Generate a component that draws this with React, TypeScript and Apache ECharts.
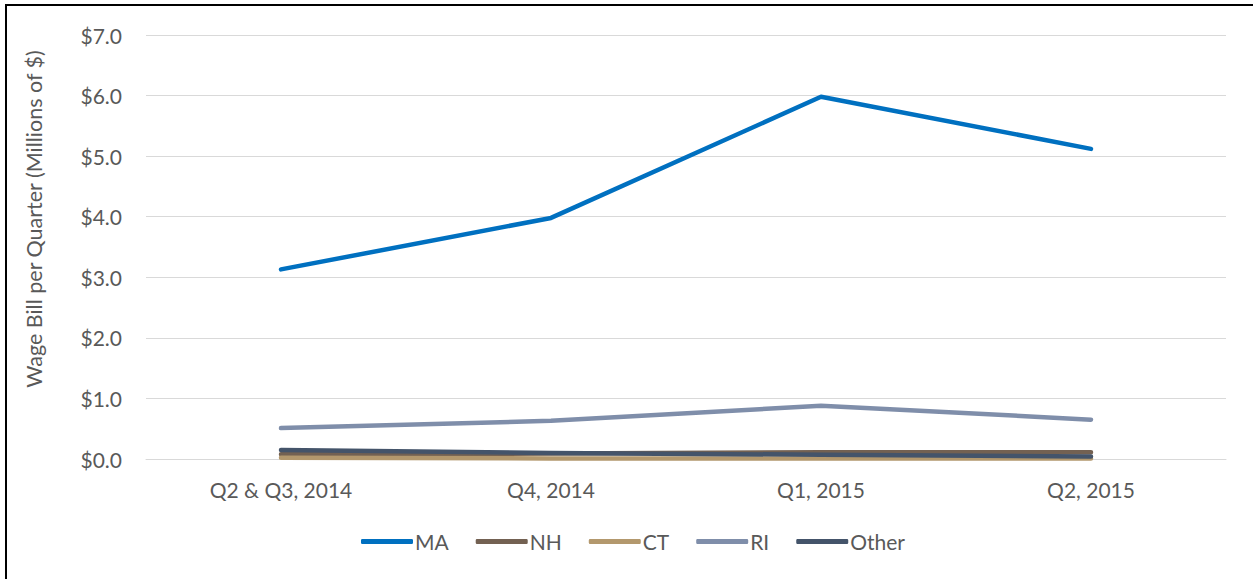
import React, { useEffect, useRef } from "react";
import * as echarts from "echarts";

const categories = ["Q2 & Q3, 2014", "Q4, 2014", "Q1, 2015", "Q2, 2015"];
const seriesNames = ["MA", "NH", "CT", "RI", "Other"];
const maValues = [3.13, 3.98, 5.98, 5.12];
const nhValues = [0.08, 0.09, 0.11, 0.11];
const ctValues = [0.02, 0.01, 0.01, 0.01];
const riValues = [0.51, 0.63, 0.88, 0.65];
const otherValues = [0.15, 0.1, 0.07, 0.04];
const colors = ["#0070C0", "#736152", "#B3986D", "#7F8EAA", "#44546A"];
const yTicks = [0, 1, 2, 3, 4, 5, 6, 7];
const yAxisTitle = "Wage Bill per Quarter (Millions of $)";

export default function App() {
  const ref = useRef<HTMLDivElement>(null);
  useEffect(() => {
    document.body.style.margin = "0";
    const chart = echarts.init(ref.current!, undefined, { renderer: "svg" });
    const font = "Lato, 'Open Sans', sans-serif";
    const data = [maValues, nhValues, ctValues, riValues, otherValues];
    chart.setOption({
      animation: false,
      textStyle: { fontFamily: font },
      graphic: [
        {
          type: "rect",
          shape: { x: 6, y: 5, width: 1260, height: 590 },
          style: { fill: "none", stroke: "#000", lineWidth: 2 },
          silent: true,
        },
        {
          type: "text",
          x: 34,
          y: 219,
          rotation: Math.PI / 2,
          style: {
            text: yAxisTitle,
            fill: "#595959",
            font: `21.5px ${font}`,
            align: "center",
            verticalAlign: "middle",
          },
          silent: true,
        },
      ],
      grid: { left: 146, right: 27, top: 35, bottom: 120, containLabel: false },
      legend: {
        bottom: 22,
        left: 356,
        icon: "roundRect",
        itemWidth: 52,
        itemHeight: 5,
        itemGap: 27,
        textStyle: { color: "#595959", fontSize: 21, fontFamily: font, padding: [0, 0, 0, -3] },
        data: seriesNames,
      },
      xAxis: {
        type: "category",
        data: categories,
        boundaryGap: true,
        axisLine: { show: true, lineStyle: { color: "#D9D9D9", width: 1 } },
        axisTick: { show: false },
        axisLabel: { color: "#595959", fontSize: 21, margin: 20, fontFamily: font },
      },
      yAxis: {
        type: "value",
        min: yTicks[0],
        max: yTicks[yTicks.length - 1],
        interval: 1,
        axisLine: { show: false },
        axisTick: { show: false },
        axisLabel: {
          color: "#595959",
          fontSize: 21,
          margin: 24,
          fontFamily: font,
          formatter: (v: number) => "$" + v.toFixed(1),
        },
        splitLine: { lineStyle: { color: "#D9D9D9", width: 1 } },
      },
      series: seriesNames.map((n, i) => ({
        name: n,
        type: "line",
        data: data[i],
        symbol: "none",
        showSymbol: false,
        lineStyle: { color: colors[i], width: 4.5, cap: "round", join: "round" },
        itemStyle: { color: colors[i] },
      })),
    });
    return () => chart.dispose();
  }, []);
  return <div ref={ref} style={{ width: 1253, height: 579 }} />;
}
